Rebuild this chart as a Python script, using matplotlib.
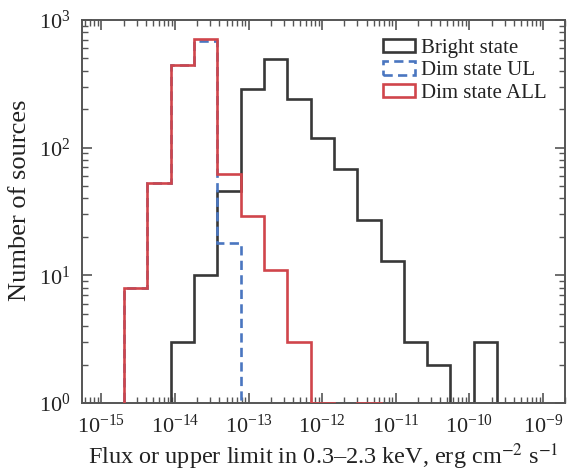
import numpy as np
import matplotlib
matplotlib.use('Agg')
import matplotlib.pyplot as plt
from matplotlib.patches import Patch
from matplotlib.ticker import LogLocator, NullFormatter

plt.rcParams['font.family'] = ['Liberation Serif', 'DejaVu Serif']
plt.rcParams['mathtext.fontset'] = 'stix'

# log10 of the bin edges (erg cm^-2 s^-1)
log_edges = [-14.693, -14.376, -14.059, -13.743, -13.426, -13.109, -12.792,
             -12.475, -12.159, -11.842, -11.525, -11.208, -10.891, -10.575,
             -10.258, -9.941, -9.624, -9.307]

# counts per bin
bright = [0, 0, 3, 10, 46, 287, 497, 239, 118, 68, 27, 13, 3, 2, 1, 3, 1]
dim_ul = [8, 53, 440, 680, 18, 0, 0, 0, 0, 0, 0, 0, 0, 0, 0, 0, 0]
dim_all = [8, 53, 444, 706, 62, 29, 11, 3, 1, 0, 1, 0, 0, 0, 0, 0, 0]

x_ticks = [1e-15, 1e-14, 1e-13, 1e-12, 1e-11, 1e-10, 1e-9]
y_ticks = [1, 10, 100, 1000]

c_black = '#383838'
c_blue = '#4a76c0'
c_red = '#d0454b'

edges = 10.0 ** np.array(log_edges)

fig = plt.figure(figsize=(5.72, 4.73), dpi=100)
ax = fig.add_axes([0.143, 0.148, 0.845, 0.810])

lw = 1.9
ax.stairs(bright, edges, color=c_black, lw=lw, zorder=2)
ax.stairs(dim_ul, edges, color=c_blue, lw=lw, ls=(0, (3.5, 2)), zorder=3)
ax.stairs(dim_all, edges, color=c_red, lw=lw, zorder=4)

ax.set_xscale('log')
ax.set_yscale('log')
ax.set_xlim(5.4e-16, 2e-9)
ax.set_ylim(1, 1000)

ax.set_xticks(x_ticks)
ax.set_yticks(y_ticks)
ax.xaxis.set_minor_locator(LogLocator(base=10, subs=np.arange(2, 10), numticks=100))
ax.xaxis.set_minor_formatter(NullFormatter())
ax.yaxis.set_minor_formatter(NullFormatter())

ax.tick_params(which='both', direction='in', top=True, right=True,
               color='#555555', labelsize=16, labelcolor='#222222')
ax.tick_params(which='major', length=7, width=1.2, pad=8)
ax.tick_params(which='minor', length=4.5, width=1.0)
for s in ax.spines.values():
    s.set_color('#555555')
    s.set_linewidth(1.4)

ax.set_xlabel(r'Flux or upper limit in 0.3–2.3 keV, erg cm$^{-2}$ s$^{-1}$',
              fontsize=17.5, color='#222222', labelpad=3)
ax.set_ylabel('Number of sources', fontsize=19, color='#222222')
ax.yaxis.set_label_coords(-0.105, 0.53)

handles = [Patch(facecolor='none', edgecolor=c_black, lw=lw),
           Patch(facecolor='none', edgecolor=c_blue, lw=lw, ls=(0, (3.5, 2))),
           Patch(facecolor='none', edgecolor=c_red, lw=lw)]
ax.legend(handles, ['Bright state', 'Dim state UL', 'Dim state ALL'],
          loc='upper right', frameon=False, fontsize=15, handlelength=1.5,
          handleheight=0.6, handletextpad=0.3, labelspacing=0.18,
          borderaxespad=0.5, labelcolor='#222222')

fig.savefig('out.png', dpi=100)
